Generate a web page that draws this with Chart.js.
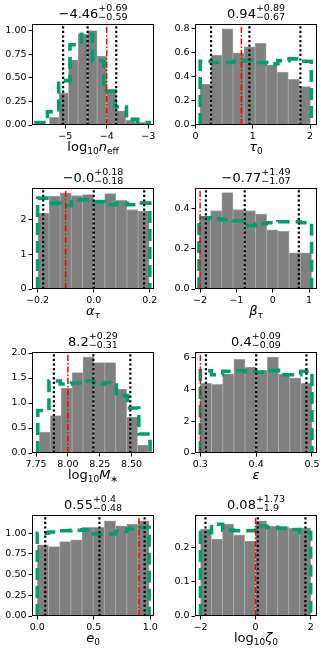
<!DOCTYPE html>
<html>
<head>
<meta charset="utf-8">
<script src="https://cdn.jsdelivr.net/npm/chart.js@4.4.1/dist/chart.umd.min.js"></script>
<style>
html, body { margin: 0; padding: 0; background: #fff; }
body { width: 327px; height: 655px; position: relative; overflow: hidden; font-family: 'DejaVu Sans', sans-serif; color: #000; }
.panel { position: absolute; width: 163px; height: 163px; }
.panel canvas { position: absolute; left: 0; top: 0; }
.ttl { position: absolute; left: 32px; width: 122px; top: 6px; text-align: center; font-size: 13px; line-height: 15px; white-space: nowrap; }
.pm { display: inline-flex; flex-direction: column; vertical-align: middle; font-size: 9.5px; line-height: 8.5px; text-align: left; position: relative; top: -2px; }
.xl { position: absolute; left: 32px; width: 122px; top: 139px; text-align: center; font-size: 13px; line-height: 15px; white-space: nowrap; }
.xl sub { font-size: 9px; vertical-align: -3px; }
</style>
</head>
<body>
<script>
// ---- data: heights of the posterior (grey) and prior (green) histograms ----

// log10 n_eff
const neffPost = [0.08, 0.34, 0.69, 0.965, 1.0, 0.73, 0.37, 0.15, 0.05, 0.03];
const neffPostRange = [-5.38, -3.08];
const neffPrior = [0.025, 0.14, 0.47, 0.85, 0.96, 0.68, 0.36, 0.19, 0.06, 0.025];
const neffPriorRange = [-5.70, -2.98];
const neffStats = [-4.46, 0.69, 0.59];   // median, +err, -err
const neffTruth = -4.0;
const neffXTicks = [-5, -4, -3];
const neffYTicks = [0, 0.25, 0.5, 0.75, 1.0];

// tau_0
const tauPost = [0.34, 0.58, 0.80, 0.60, 0.65, 0.68, 0.50, 0.44, 0.38, 0.32];
const tauPostRange = [0.075, 2.005];
const tauPrior = [0.53, 0.52, 0.52, 0.53, 0.54, 0.52, 0.51, 0.535, 0.55, 0.53];
const tauPriorRange = [0.08, 2.02];
const tauStats = [0.94, 0.89, 0.67];
const tauTruth = 0.8;
const tauXTicks = [0, 1, 2];
const tauYTicks = [0, 0.2, 0.4, 0.6, 0.8];

// alpha_tau
const alphaPost = [2.17, 2.66, 2.75, 2.67, 2.70, 2.54, 2.73, 2.54, 2.27, 2.23];
const alphaPostRange = [-0.199, 0.198];
const alphaPrior = [2.60, 2.45, 2.38, 2.55, 2.55, 2.50, 2.41, 2.45, 2.41, 2.46];
const alphaPriorRange = [-0.2, 0.2];
const alphaStats = [-0.0, 0.18, 0.18];
const alphaTruth = -0.1;
const alphaXTicks = [-0.2, 0, 0.2];
const alphaYTicks = [0, 1, 2];

// beta_tau
const betaPost = [0.36, 0.39, 0.48, 0.395, 0.39, 0.373, 0.295, 0.287, 0.18, 0.18];
const betaPostRange = [-2.02, 1.07];
const betaPrior = [0.355, 0.35, 0.345, 0.34, 0.315, 0.325, 0.33, 0.335, 0.335, 0.33];
const betaPriorRange = [-2.03, 1.07];
const betaStats = [-0.77, 1.49, 1.07];
const betaTruth = -2.0;
const betaXTicks = [-2, -1, 0, 1];
const betaYTicks = [0, 0.2, 0.4];

// log10 M_*
const mstarPost = [0.42, 0.75, 1.30, 1.61, 1.92, 1.81, 1.81, 1.28, 0.72, 0.16];
const mstarPostRange = [7.776, 8.632];
const mstarPrior = [0.85, 1.44, 1.38, 1.40, 1.44, 1.38, 1.41, 1.15, 0.90, 0.38];
const mstarPriorRange = [7.763, 8.645];
const mstarStats = [8.2, 0.29, 0.31];
const mstarTruth = 8.0;
const mstarXTicks = [7.75, 8.0, 8.25, 8.5];
const mstarYTicks = [0, 0.5, 1.0, 1.5, 2.0];

// epsilon
const epsPost = [4.37, 4.29, 4.96, 5.86, 5.38, 5.17, 6.0, 4.96, 4.71, 4.37];
const epsPostRange = [0.3, 0.5];
const epsPrior = [5.15, 4.9, 5.12, 5.15, 5.1, 5.05, 5.17, 4.9, 4.9, 5.12];
const epsPriorRange = [0.3, 0.5];
const epsStats = [0.4, 0.09, 0.09];
const epsTruth = 0.3;
const epsXTicks = [0.3, 0.4, 0.5];
const epsYTicks = [0, 2, 4, 6];

// e_0
const e0Post = [0.86, 0.84, 0.90, 0.92, 1.07, 1.07, 1.15, 1.09, 1.11, 1.15];
const e0PostRange = [0.0, 0.99];
const e0Prior = [1.0, 1.015, 1.03, 1.035, 1.04, 0.99, 0.99, 1.02, 1.05, 1.07];
const e0PriorRange = [0.0, 0.99];
const e0Stats = [0.55, 0.4, 0.48];
const e0Truth = 0.9;
const e0XTicks = [0, 0.5, 1.0];
const e0YTicks = [0, 0.25, 0.5, 0.75, 1.0];

// log10 zeta_0
const zetaPost = [0.253, 0.224, 0.268, 0.236, 0.218, 0.277, 0.262, 0.26, 0.255, 0.257];
const zetaPostRange = [-2.0, 2.0];
const zetaPrior = [0.243, 0.267, 0.25, 0.248, 0.248, 0.262, 0.258, 0.255, 0.252, 0.243];
const zetaPriorRange = [-2.0, 2.0];
const zetaStats = [0.08, 1.73, 1.9];
const zetaTruth = 0.0;
const zetaXTicks = [-2, 0, 2];
const zetaYTicks = [0, 0.1, 0.2];

// ---- panel setup (axis limits + label markup) ----
const panels = [
  { post: neffPost, postR: neffPostRange, prior: neffPrior, priorR: neffPriorRange, stats: neffStats, truth: neffTruth,
    xt: neffXTicks, yt: neffYTicks, xd: 0, yd: 2, xmin: -5.80, xmax: -2.86, ymax: 1.07,
    label: 'log<sub>10</sub><i>n</i><sub>eff</sub>' },
  { post: tauPost, postR: tauPostRange, prior: tauPrior, priorR: tauPriorRange, stats: tauStats, truth: tauTruth,
    xt: tauXTicks, yt: tauYTicks, xd: 0, yd: 1, xmin: -0.01, xmax: 2.12, ymax: 0.84,
    label: '<i>τ</i><sub>0</sub>' },
  { post: alphaPost, postR: alphaPostRange, prior: alphaPrior, priorR: alphaPriorRange, stats: alphaStats, truth: alphaTruth,
    xt: alphaXTicks, yt: alphaYTicks, xd: 1, yd: 0, xmin: -0.22, xmax: 0.215, ymax: 2.89,
    label: '<i>α</i><sub><i>τ</i></sub>' },
  { post: betaPost, postR: betaPostRange, prior: betaPrior, priorR: betaPriorRange, stats: betaStats, truth: betaTruth,
    xt: betaXTicks, yt: betaYTicks, xd: 0, yd: 1, xmin: -2.14, xmax: 1.22, ymax: 0.503,
    label: '<i>β</i><sub><i>τ</i></sub>' },
  { post: mstarPost, postR: mstarPostRange, prior: mstarPrior, priorR: mstarPriorRange, stats: mstarStats, truth: mstarTruth,
    xt: mstarXTicks, yt: mstarYTicks, xd: 2, yd: 1, xmin: 7.718, xmax: 8.676, ymax: 2.02,
    label: 'log<sub>10</sub><i>M</i><sub>∗</sub>' },
  { post: epsPost, postR: epsPostRange, prior: epsPrior, priorR: epsPriorRange, stats: epsStats, truth: epsTruth,
    xt: epsXTicks, yt: epsYTicks, xd: 1, yd: 0, xmin: 0.2904, xmax: 0.509, ymax: 6.32,
    label: '<i>ε</i>' },
  { post: e0Post, postR: e0PostRange, prior: e0Prior, priorR: e0PriorRange, stats: e0Stats, truth: e0Truth,
    xt: e0XTicks, yt: e0YTicks, xd: 1, yd: 2, xmin: -0.047, xmax: 1.033, ymax: 1.22,
    label: '<i>e</i><sub>0</sub>' },
  { post: zetaPost, postR: zetaPostRange, prior: zetaPrior, priorR: zetaPriorRange, stats: zetaStats, truth: zetaTruth,
    xt: zetaXTicks, yt: zetaYTicks, xd: 0, yd: 1, xmin: -2.2, xmax: 2.23, ymax: 0.294,
    label: 'log<sub>10</sub><i>ζ</i><sub>0</sub>' }
];

function minus(s) { return s.replace('-', '\u2212'); }
function fmt(v) { return Object.is(v, -0) ? '\u22120.0' : minus(String(v)); }

// box around the plot area (matplotlib spines)
const frame = {
  id: 'frame',
  afterDatasetsDraw(c) {
    const a = c.chartArea, ctx = c.ctx;
    ctx.save();
    ctx.strokeStyle = '#000';
    ctx.lineWidth = 1;
    ctx.strokeRect(Math.round(a.left) + 0.5, Math.round(a.top) + 0.5,
                   Math.round(a.right - a.left) - 1, Math.round(a.bottom - a.top) - 1);
    ctx.restore();
  }
};

panels.forEach(function(p, i) {
  var col = i % 2, row = Math.floor(i / 2);
  var div = document.createElement('div');
  div.className = 'panel';
  div.style.left = (col * 163) + 'px';
  div.style.top = Math.round(row * 163.8) + 'px';
  var cv = document.createElement('canvas');
  cv.width = 163; cv.height = 163;
  div.appendChild(cv);

  var med = p.stats[0], up = p.stats[1], lo = p.stats[2];
  var t = document.createElement('div');
  t.className = 'ttl';
  t.innerHTML = fmt(med) + '<span class="pm"><span>+' + fmt(up) + '</span><span>' + fmt(-lo) + '</span></span>';
  div.appendChild(t);
  var xl = document.createElement('div');
  xl.className = 'xl';
  xl.innerHTML = p.label;
  div.appendChild(xl);
  document.body.appendChild(div);

  // grey posterior bars at bin centres
  var n = p.post.length, w = (p.postR[1] - p.postR[0]) / n;
  var bars = p.post.map(function(h, k) { return { x: p.postR[0] + (k + 0.5) * w, y: h }; });

  // green prior as a step outline
  var m = p.prior.length, wp = (p.priorR[1] - p.priorR[0]) / m;
  var step = [{ x: p.priorR[0], y: 0 }];
  p.prior.forEach(function(h, k) {
    step.push({ x: p.priorR[0] + k * wp, y: h });
    step.push({ x: p.priorR[0] + (k + 1) * wp, y: h });
  });
  step.push({ x: p.priorR[1], y: 0 });

  var vline = function(v) { return [{ x: v, y: 0 }, { x: v, y: p.ymax }]; };
  var dotted = [med - lo, med, med + up].map(function(v) {
    return { type: 'line', data: vline(v), borderColor: '#000', borderWidth: 2.2, borderDash: [2.2, 2.4],
             pointRadius: 0, fill: false, order: 2 };
  });

  new Chart(cv, {
    type: 'bar',
    data: {
      datasets: [
        { type: 'bar', data: bars, backgroundColor: '#808080', borderColor: '#a8a8a8', borderWidth: 0.8,
          barPercentage: 1, categoryPercentage: 1, order: 4 },
        { type: 'line', data: step, borderColor: '#009e73', borderWidth: 3.6, borderDash: [12, 6],
          pointRadius: 0, fill: false, tension: 0, order: 3 }
      ].concat(dotted, [
        { type: 'line', data: vline(p.truth), borderColor: '#ff0000', borderWidth: 1.5, borderDash: [6, 2, 1.5, 2],
          pointRadius: 0, fill: false, order: 1 }
      ])
    },
    options: {
      responsive: false,
      animation: false,
      devicePixelRatio: 1,
      layout: { padding: { left: 0, right: 9, top: 24, bottom: 24 } },
      plugins: { legend: { display: false }, tooltip: { enabled: false } },
      scales: {
        x: {
          type: 'linear', min: p.xmin, max: p.xmax, offset: false,
          grid: { display: true, drawOnChartArea: false, drawTicks: true, tickLength: 3.5, color: '#000', offset: false },
          border: { display: false },
          ticks: { autoSkip: false, maxRotation: 0, padding: 2, color: '#000',
                   font: { family: 'DejaVu Sans', size: 9.5 },
                   callback: function(v) { return minus(v.toFixed(p.xd)); } },
          afterBuildTicks: function(s) { s.ticks = p.xt.map(function(v) { return { value: v }; }); },
          afterFit: function(s) { s.height = 14; }
        },
        y: {
          type: 'linear', min: 0, max: p.ymax,
          grid: { display: true, drawOnChartArea: false, drawTicks: true, tickLength: 3.5, color: '#000' },
          border: { display: false },
          ticks: { autoSkip: false, padding: 2, color: '#000',
                   font: { family: 'DejaVu Sans', size: 9.5 },
                   callback: function(v) { return minus(v.toFixed(p.yd)); } },
          afterBuildTicks: function(s) { s.ticks = p.yt.map(function(v) { return { value: v }; }); },
          afterFit: function(s) { s.width = 32; }
        }
      }
    },
    plugins: [frame]
  });
});
</script>
</body>
</html>
